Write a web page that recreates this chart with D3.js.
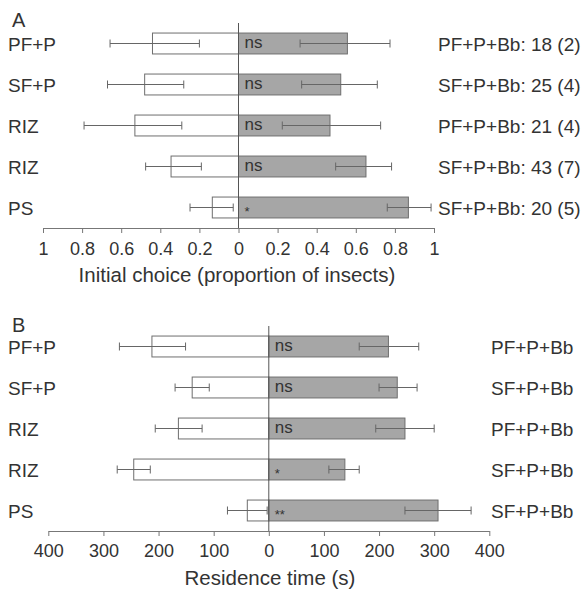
<!DOCTYPE html>
<html><head><meta charset="utf-8">
<script src="https://cdn.jsdelivr.net/npm/d3@7"></script>
<style>
body{margin:0;background:#fff;}
svg text{font-family:"Liberation Sans",Arial,Helvetica,sans-serif;fill:#333;}
</style></head>
<body><svg id="c" width="584" height="590"></svg>
<script>
// ---- Data ----
const leftLabels = ["PF+P","SF+P","RIZ","RIZ","PS"];
const rightLabelsA = ["PF+P+Bb: 18 (2)","SF+P+Bb: 25 (4)","PF+P+Bb: 21 (4)","SF+P+Bb: 43 (7)","SF+P+Bb: 20 (5)"];
const rightLabelsB = ["PF+P+Bb","SF+P+Bb","PF+P+Bb","SF+P+Bb","SF+P+Bb"];
const sigA = ["ns","ns","ns","ns","*"];
const sigB = ["ns","ns","ns","*","**"];

// Panel A: initial choice (proportion)
const choiceLeft      = [0.44, 0.48, 0.53, 0.345, 0.134];
const choiceLeftLo    = [0.20, 0.28, 0.29, 0.19, 0.027];
const choiceLeftHi    = [0.657, 0.67, 0.79, 0.475, 0.248];
const choiceRight     = [0.557, 0.523, 0.468, 0.652, 0.869];
const choiceRightLo   = [0.315, 0.323, 0.224, 0.497, 0.761];
const choiceRightHi   = [0.775, 0.71, 0.727, 0.783, 0.985];
const ticksA = [-1,-0.8,-0.6,-0.4,-0.2,0,0.2,0.4,0.6,0.8,1];

// Panel B: residence time (s)
const timeLeft    = [212, 139, 164, 245, 39];
const timeLeftLo  = [151, 108, 121, 215, 3];
const timeLeftHi  = [271, 170, 206, 275, 75];
const timeRight   = [217, 233, 247, 138, 307];
const timeRightLo = [164, 200, 194, 109, 247];
const timeRightHi = [272, 269, 300, 164, 367];
const ticksB = [-400,-300,-200,-100,0,100,200,300,400];

const svg = d3.select("#c");
const idx = d3.range(leftLabels.length);

function panel(cfg){
  const g = svg.append("g");
  const x = d3.scaleLinear().domain(cfg.domain).range(cfg.xr);
  const y = d3.scaleBand().domain(idx).range(cfg.yr).paddingInner(0.49).paddingOuter(0.245);
  const bh = y.bandwidth();
  const cy = i => y(i) + bh/2;

  // white (left) bars
  g.selectAll(".lb").data(idx).join("rect")
    .attr("x", i => x(-cfg.left[i])).attr("y", i => y(i))
    .attr("width", i => x(0) - x(-cfg.left[i])).attr("height", bh)
    .attr("fill","#fff").attr("stroke","#6e6e6e").attr("stroke-width",1);
  // grey (right) bars
  g.selectAll(".rb").data(idx).join("rect")
    .attr("x", x(0)).attr("y", i => y(i))
    .attr("width", i => x(cfg.right[i]) - x(0)).attr("height", bh)
    .attr("fill","#a6a6a6").attr("stroke","#6e6e6e").attr("stroke-width",1);

  // error bars
  const errs = [];
  idx.forEach(i=>{
    errs.push({i, a:-cfg.leftLo[i], b:-cfg.leftHi[i]});
    errs.push({i, a:cfg.rightLo[i], b:cfg.rightHi[i]});
  });
  const eg = g.append("g").attr("stroke","#666").attr("stroke-width",1);
  eg.selectAll(".eh").data(errs).join("line")
    .attr("x1", d=>x(d.a)).attr("x2", d=>x(d.b))
    .attr("y1", d=>cy(d.i)).attr("y2", d=>cy(d.i));
  eg.selectAll(".ca").data(errs).join("line")
    .attr("x1", d=>x(d.a)).attr("x2", d=>x(d.a))
    .attr("y1", d=>cy(d.i)-4).attr("y2", d=>cy(d.i)+4);
  eg.selectAll(".cb").data(errs).join("line")
    .attr("x1", d=>x(d.b)).attr("x2", d=>x(d.b))
    .attr("y1", d=>cy(d.i)-4).attr("y2", d=>cy(d.i)+4);

  // zero line
  g.append("line").attr("x1",x(0)).attr("x2",x(0))
    .attr("y1",cfg.yr[0]).attr("y2",cfg.yr[1])
    .attr("stroke","#555").attr("stroke-width",1);

  // axis
  const ax = g.append("g").attr("transform",`translate(0,${cfg.yr[1]})`)
    .call(d3.axisBottom(x).tickValues(cfg.ticks).tickSize(5).tickSizeOuter(0)
      .tickFormat(d => String(Math.abs(d))));
  ax.select(".domain").attr("stroke","#777");
  ax.selectAll(".tick line").attr("stroke","#777");
  ax.selectAll(".tick text").attr("font-size","18px").attr("fill","#333")
    .attr("y", cfg.tickDy).attr("dy",0);

  // sig labels
  g.selectAll(".sig").data(idx).join("text")
    .attr("x", x(0)+6)
    .attr("y", i => cfg.sig[i].startsWith("*") ? cy(i)+8 : cy(i)+4.5)
    .attr("font-size", i => cfg.sig[i].startsWith("*") ? "13px" : "17px")
    .text(i => cfg.sig[i]);

  // category labels
  g.selectAll(".ll").data(idx).join("text")
    .attr("x", 8).attr("y", i => cy(i)+7).attr("font-size","19px")
    .text(i => leftLabels[i]);
  g.selectAll(".rl").data(idx).join("text")
    .attr("x", cfg.rlx).attr("y", i => cy(i)+7).attr("font-size","19px")
    .text(i => cfg.rlabels[i]);

  // panel letter
  g.append("text").attr("x",12).attr("y",cfg.letterY).attr("font-size","20px").text(cfg.letter);
  // axis title
  g.append("text").attr("x",cfg.titleX).attr("y",cfg.titleY).attr("text-anchor","middle")
    .attr("font-size","20.5px").text(cfg.title);
}

panel({domain:[-1,1], xr:[43,434], yr:[23,228],
  left:choiceLeft, leftLo:choiceLeftLo, leftHi:choiceLeftHi,
  right:choiceRight, rightLo:choiceRightLo, rightHi:choiceRightHi,
  ticks:ticksA, tickDy:27, sig:sigA, rlabels:rightLabelsA, rlx:438,
  letter:"A", letterY:27, title:"Initial choice (proportion of insects)", titleX:237, titleY:282});

panel({domain:[-400,400], xr:[48.3,489.3], yr:[326,531],
  left:timeLeft, leftLo:timeLeftLo, leftHi:timeLeftHi,
  right:timeRight, rightLo:timeRightLo, rightHi:timeRightHi,
  ticks:ticksB, tickDy:26, sig:sigB, rlabels:rightLabelsB, rlx:491,
  letter:"B", letterY:332, title:"Residence time (s)", titleX:270, titleY:585});
</script></body></html>
